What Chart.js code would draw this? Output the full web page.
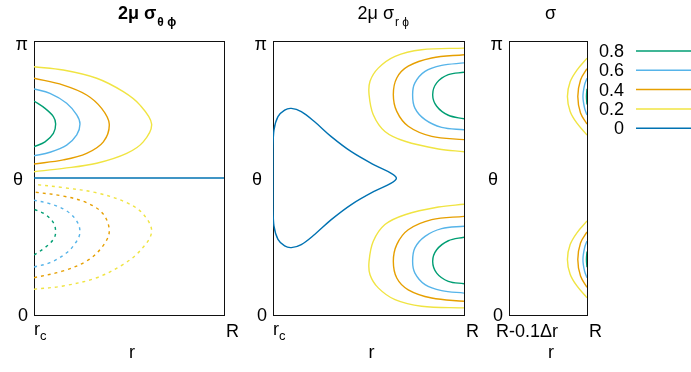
<!DOCTYPE html>
<html>
<head>
<meta charset="utf-8">
<script src="https://cdn.jsdelivr.net/npm/chart.js@4"></script>
<style>
  body { margin: 0; background: #fff; }
  #wrap { position: relative; width: 691px; height: 372px; overflow: hidden; }
  canvas { position: absolute; left: 0; top: 0; }
</style>
</head>
<body>
<div id="wrap">
  <canvas id="c1" width="691" height="372"></canvas>
  <canvas id="c2" width="691" height="372"></canvas>
  <canvas id="c3" width="691" height="372"></canvas>
</div>
<script>
// contour levels, top to bottom as in the key
const levels = ['0.8', '0.6', '0.4', '0.2', '0'];
const levelColors = ['#009E73', '#56B4E9', '#E69F00', '#F0E442', '#0072B2'];

// points are [r, theta/pi], r scaled 0 (left edge) .. 1 (right edge)
// panel 1: 2mu sigma_theta_phi  (upper = positive, lower = negative/dashed)
const tt08U = [[0,0.781],[0.058,0.754],[0.102,0.724],[0.114,0.697],[0.102,0.663],[0.058,0.632],[0,0.614]];
const tt06U = [[0,0.825],[0.084,0.809],[0.172,0.773],[0.225,0.730],[0.242,0.697],[0.225,0.657],[0.172,0.620],[0.084,0.594],[0,0.581]];
const tt04U = [[0,0.864],[0.154,0.839],[0.277,0.803],[0.356,0.754],[0.396,0.697],[0.365,0.632],[0.277,0.590],[0.154,0.566],[0,0.551]];
const tt02U = [[0,0.906],[0.154,0.894],[0.33,0.864],[0.47,0.815],[0.558,0.766],[0.619,0.697],[0.575,0.632],[0.488,0.590],[0.33,0.554],[0.154,0.535],[0,0.523]];
const tt00 = [[0,0.5],[1,0.5]];
const tt08L = [[0,0.219],[0.058,0.246],[0.102,0.276],[0.114,0.303],[0.102,0.337],[0.058,0.368],[0,0.386]];
const tt06L = [[0,0.175],[0.084,0.191],[0.172,0.227],[0.225,0.270],[0.242,0.303],[0.225,0.343],[0.172,0.380],[0.084,0.406],[0,0.419]];
const tt04L = [[0,0.136],[0.154,0.161],[0.277,0.197],[0.356,0.246],[0.396,0.303],[0.365,0.368],[0.277,0.410],[0.154,0.434],[0,0.449]];
const tt02L = [[0,0.094],[0.154,0.106],[0.33,0.136],[0.47,0.185],[0.558,0.234],[0.619,0.303],[0.575,0.368],[0.488,0.410],[0.33,0.446],[0.154,0.465],[0,0.477]];

// panel 2: 2mu sigma_r_phi
const rp08U = [[1,0.886],[0.918,0.877],[0.857,0.847],[0.836,0.804],[0.857,0.762],[0.918,0.729],[1,0.716]];
const rp06U = [[1,0.920],[0.883,0.911],[0.796,0.889],[0.743,0.847],[0.731,0.804],[0.743,0.755],[0.796,0.713],[0.883,0.685],[1,0.676]];
const rp04U = [[1,0.950],[0.831,0.938],[0.708,0.908],[0.648,0.865],[0.630,0.804],[0.648,0.743],[0.708,0.689],[0.831,0.652],[1,0.640]];
const rp02U = [[1,0.974],[0.778,0.968],[0.639,0.944],[0.551,0.901],[0.508,0.853],[0.503,0.804],[0.525,0.731],[0.586,0.670],[0.691,0.634],[0.866,0.606],[1,0.596]];
const rp08L = [[1,0.114],[0.918,0.123],[0.857,0.153],[0.836,0.196],[0.857,0.238],[0.918,0.271],[1,0.284]];
const rp06L = [[1,0.080],[0.883,0.089],[0.796,0.111],[0.743,0.153],[0.731,0.196],[0.743,0.245],[0.796,0.287],[0.883,0.315],[1,0.324]];
const rp04L = [[1,0.050],[0.831,0.062],[0.708,0.092],[0.648,0.135],[0.630,0.196],[0.648,0.257],[0.708,0.311],[0.831,0.348],[1,0.360]];
const rp02L = [[1,0.026],[0.778,0.032],[0.639,0.056],[0.551,0.099],[0.508,0.147],[0.503,0.196],[0.525,0.269],[0.586,0.330],[0.691,0.366],[0.866,0.394],[1,0.404]];
const rp00 = [[0,0.499],[0,0.602],[0.005,0.675],[0.026,0.724],[0.061,0.748],[0.096,0.754],[0.148,0.742],[0.218,0.705],[0.305,0.651],[0.410,0.596],[0.532,0.547],[0.619,0.517],[0.646,0.499],[0.619,0.481],[0.532,0.452],[0.410,0.403],[0.305,0.348],[0.218,0.294],[0.148,0.257],[0.096,0.246],[0.061,0.252],[0.026,0.276],[0.005,0.325],[0,0.398],[0,0.499]];

// panel 3: sigma, r from R-0.1dr to R
const s08U = [[1,0.826],[0.993,0.797],[1,0.768]];
const s06U = [[1,0.864],[0.969,0.840],[0.948,0.797],[0.969,0.755],[1,0.730]];
const s04U = [[1,0.899],[0.917,0.858],[0.882,0.797],[0.917,0.737],[1,0.697]];
const s02U = [[1,0.937],[0.871,0.894],[0.784,0.851],[0.749,0.797],[0.784,0.743],[0.871,0.700],[1,0.657]];
const s08L = [[1,0.174],[0.993,0.203],[1,0.232]];
const s06L = [[1,0.136],[0.969,0.160],[0.948,0.203],[0.969,0.245],[1,0.270]];
const s04L = [[1,0.101],[0.917,0.142],[0.882,0.203],[0.917,0.263],[1,0.303]];
const s02L = [[1,0.063],[0.871,0.106],[0.784,0.149],[0.749,0.203],[0.784,0.257],[0.871,0.300],[1,0.343]];

const FONT = '"Liberation Sans", Arial, sans-serif';

function line(points, color, dashed, width) {
    return {
        data: points.map(p => ({x: p[0], y: p[1]})),
        showLine: true,
        borderColor: color,
        borderWidth: width || 1.4,
        borderDash: dashed ? [3, 4] : [],
        pointRadius: 0,
        tension: 0.35,
        fill: false
    };
}

function txt(ctx, s, x, y, size, align, weight) {
    ctx.font = (weight || 'normal') + ' ' + size + 'px ' + FONT;
    ctx.textAlign = align || 'left';
    ctx.textBaseline = 'alphabetic';
    ctx.fillStyle = '#000';
    ctx.fillText(s, x, y);
    return ctx.measureText(s).width;
}

const axisOpts = (pos) => ({
    type: 'linear', position: pos, min: 0, max: 1,
    ticks: {display: false},
    grid: {display: false, drawTicks: false},
    border: {display: true, color: '#111', width: 1}
});

function makePanel(id, left, right, cfg) {
    const textPlugin = {
        id: 'panelText',
        afterDraw(chart) {
            const ctx = chart.ctx;
            const xs = chart.scales.x, ys = chart.scales.y;
            const x0 = xs.getPixelForValue(0), x1 = xs.getPixelForValue(1);
            const mid = (x0 + x1) / 2;
            ctx.save();
            // title with subscript
            let tx = mid - 11 + (cfg.titleDx || 0);
            tx += txt(ctx, cfg.title, tx, 19, 18, 'left', cfg.bold ? 'bold' : 'normal');
            if (cfg.titleSub) txt(ctx, cfg.titleSub, tx + 1, 26, 12, 'left', cfg.bold ? 'bold' : 'normal');
            // y ticks and theta
            txt(ctx, '\u03c0', x0 - 6, ys.getPixelForValue(1) + 9, 18, 'right');
            txt(ctx, '0', x0 - 6, ys.getPixelForValue(0) + 6, 18, 'right');
            txt(ctx, '\u03b8', x0 - 11, ys.getPixelForValue(0.5) + 7, 18, 'right');
            // x ticks
            if (cfg.leftSub) {
                const w = txt(ctx, cfg.leftLabel, x0, 335, 18, 'left');
                txt(ctx, cfg.leftSub, x0 + w, 340, 13, 'left');
            } else {
                txt(ctx, cfg.leftLabel, x0 + 18, 337, 18, 'center');
            }
            txt(ctx, 'R', x1 + 2, 337, 18, 'left');
            // axis title
            txt(ctx, 'r', mid + 3, 358, 18, 'center');
            if (cfg.legend) {
                levels.forEach((lv, i) => {
                    const y = 51 + i * 19.3;
                    txt(ctx, lv, 624, y + 6, 18, 'right');
                    ctx.strokeStyle = levelColors[i];
                    ctx.lineWidth = 1.5;
                    ctx.beginPath();
                    ctx.moveTo(636, y);
                    ctx.lineTo(700, y);
                    ctx.stroke();
                });
            }
            ctx.restore();
        }
    };
    return new Chart(document.getElementById(id), {
        type: 'scatter',
        data: {datasets: cfg.datasets},
        options: {
            responsive: false,
            animation: false,
            devicePixelRatio: 1,
            layout: {padding: {left: left, right: 691 - right, top: 41, bottom: 372 - 315}},
            scales: {
                x: axisOpts('bottom'),
                y: axisOpts('left'),
                x2: Object.assign(axisOpts('top'), {axis: 'x'}),
                y2: Object.assign(axisOpts('right'), {axis: 'y'})
            },
            plugins: {legend: {display: false}, tooltip: {enabled: false}}
        },
        plugins: [textPlugin]
    });
}

const [c08, c06, c04, c02, c00] = levelColors;

makePanel('c1', 34, 224, {
    title: '2\u03bc \u03c3', titleSub: '\u03b8 \u03d5', bold: true,
    leftLabel: 'r', leftSub: 'c',
    datasets: [
        line(tt02U, c02), line(tt04U, c04), line(tt06U, c06), line(tt08U, c08),
        line(tt02L, c02, true), line(tt04L, c04, true), line(tt06L, c06, true), line(tt08L, c08, true),
        line(tt00, c00, false, 1.6)
    ]
});

makePanel('c2', 273, 464, {
    title: '2\u03bc \u03c3', titleSub: 'r \u03d5',
    leftLabel: 'r', leftSub: 'c',
    datasets: [
        line(rp02U, c02), line(rp04U, c04), line(rp06U, c06), line(rp08U, c08),
        line(rp02L, c02), line(rp04L, c04), line(rp06L, c06), line(rp08L, c08),
        line(rp00, c00)
    ]
});

makePanel('c3', 509, 587, {
    title: '\u03c3', titleDx: 8,
    leftLabel: 'R-0.1\u0394r',
    legend: true,
    datasets: [
        line(s02U, c02), line(s04U, c04), line(s06U, c06), line(s08U, c08),
        line(s02L, c02), line(s04L, c04), line(s06L, c06), line(s08L, c08)
    ]
});
</script>
</body>
</html>
